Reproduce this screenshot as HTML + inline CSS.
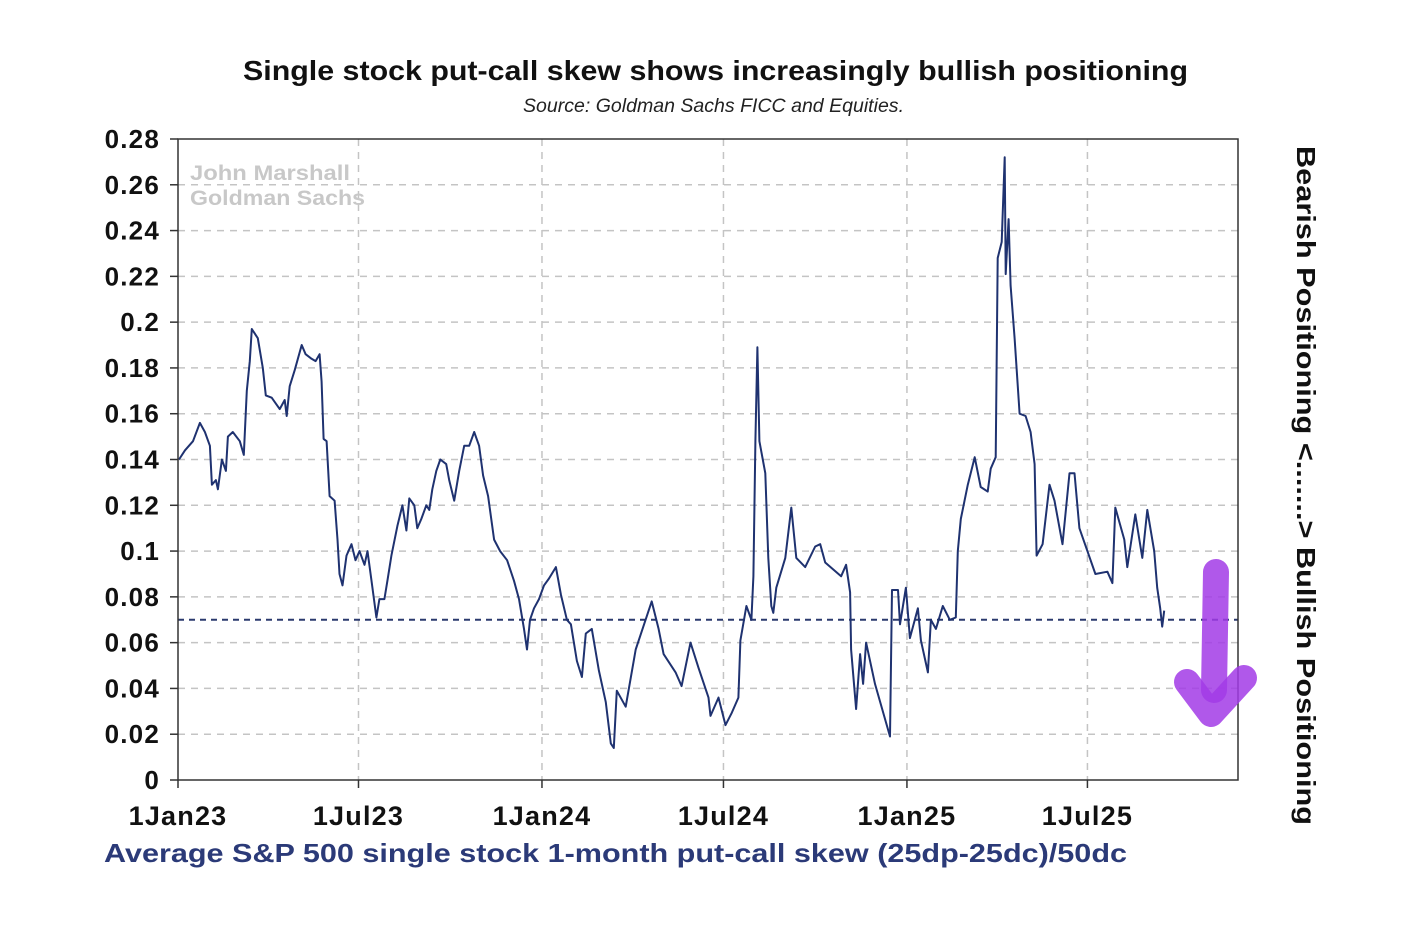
<!DOCTYPE html>
<html><head><meta charset="utf-8"><style>
body{margin:0;background:#fff;}
svg{display:block;font-family:"Liberation Sans",Arial,sans-serif;}
</style></head><body>
<svg id="chart" width="1420" height="940" viewBox="0 0 1420 940">
<text x="243" y="80" textLength="945" lengthAdjust="spacingAndGlyphs" font-size="28" font-weight="bold" fill="#111">Single stock put-call skew shows increasingly bullish positioning</text>
<text x="523" y="112" textLength="381" lengthAdjust="spacingAndGlyphs" font-size="19" font-style="italic" fill="#222">Source: Goldman Sachs FICC and Equities.</text>
<g id="grid"></g>
<g id="yaxis"></g>
<g id="xaxis"></g>
<text x="190" y="180" textLength="160" lengthAdjust="spacingAndGlyphs" font-size="21" font-weight="bold" fill="#c8c8c8">John Marshall</text>
<text x="190" y="205" textLength="175" lengthAdjust="spacingAndGlyphs" font-size="21" font-weight="bold" fill="#c8c8c8">Goldman Sachs</text>
<g id="series"></g>
<rect x="178" y="139" width="1060" height="641" fill="none" stroke="#333" stroke-width="1.5"/>
<text x="104" y="862" textLength="1023" lengthAdjust="spacingAndGlyphs" font-size="26" font-weight="bold" fill="#2b3a78">Average S&amp;P 500 single stock 1-month put-call skew (25dp-25dc)/50dc</text>
<text transform="translate(1297,146) rotate(90)" textLength="679" lengthAdjust="spacingAndGlyphs" font-size="26" font-weight="bold" fill="#111">Bearish Positioning &lt;.......&gt; Bullish Positioning</text>
<g fill="none" stroke="#a23be6" stroke-opacity="0.85" stroke-width="26" stroke-linecap="round" stroke-linejoin="round">
<path d="M1216 572 L1214 690"/>
<path d="M1187 682 L1211 714 L1244 678"/>
</g>
</svg>
<script>
const days=[1,7,15,22,27,32,34,38,40,44,48,50,55,62,66,69,72,74,80,85,88,94,102,107,109,112,117,124,128,134,138,142,144,146,149,152,157,160,162,165,169,174,178,182,187,190,194,199,202,207,210,214,220,225,229,232,237,240,244,249,252,255,259,263,269,272,277,282,287,292,297,302,306,311,317,323,330,337,342,347,350,353,357,362,367,372,379,384,390,394,400,405,409,415,422,429,434,437,440,449,459,475,482,487,499,505,514,522,532,534,542,549,555,562,564,570,575,577,579,581,583,589,592,595,597,600,609,615,620,629,639,644,649,665,670,674,675,680,684,687,690,699,714,716,722,724,730,734,742,745,752,755,760,767,774,780,782,785,792,799,805,812,815,820,822,826,829,830,833,835,839,844,850,855,859,861,867,874,879,887,894,899,904,912,920,932,937,940,949,952,960,967,972,979,982,985,987,989];
const values=[.140,.144,.148,.156,.152,.146,.129,.131,.127,.140,.135,.150,.152,.148,.142,.170,.183,.197,.193,.180,.168,.167,.162,.166,.159,.172,.179,.190,.186,.184,.183,.186,.174,.149,.148,.124,.122,.105,.090,.085,.098,.103,.096,.100,.094,.100,.087,.071,.079,.079,.087,.098,.111,.120,.109,.123,.120,.110,.114,.120,.118,.127,.135,.140,.138,.131,.122,.135,.146,.146,.152,.146,.133,.124,.105,.100,.096,.087,.079,.066,.057,.070,.075,.079,.085,.088,.093,.081,.070,.068,.052,.045,.064,.066,.048,.034,.016,.014,.039,.032,.057,.078,.066,.055,.047,.041,.060,.049,.036,.028,.036,.024,.029,.036,.061,.076,.070,.089,.148,.189,.148,.134,.097,.076,.073,.084,.097,.119,.097,.093,.102,.103,.095,.089,.094,.082,.057,.031,.055,.042,.060,.042,.019,.083,.083,.068,.084,.062,.075,.061,.047,.070,.066,.076,.070,.071,.100,.114,.129,.141,.128,.126,.136,.141,.228,.235,.272,.221,.245,.216,.193,.160,.159,.152,.138,.098,.103,.129,.122,.103,.134,.134,.110,.100,.090,.091,.086,.119,.105,.093,.116,.097,.118,.100,.084,.075,.067,.074];
const yTicks=[0,0.02,0.04,0.06,0.08,0.1,0.12,0.14,0.16,0.18,0.2,0.22,0.24,0.26,0.28];
const yTickLabels=["0","0.02","0.04","0.06","0.08","0.1","0.12","0.14","0.16","0.18","0.2","0.22","0.24","0.26","0.28"];
const xTickDays=[0,181,365,547,731,912];
const xTickLabels=["1Jan23","1Jul23","1Jan24","1Jul24","1Jan25","1Jul25"];
const refLevel=0.07;
const NS="http://www.w3.org/2000/svg";
const X0=178,X1=1238,Y0=780,Y1=139,DMAX=1063,VMAX=0.28;
function xs(d){return X0+d*(X1-X0)/DMAX;}
function ys(v){return Y0-v*(Y0-Y1)/VMAX;}
function mk(tag,attrs,parent){const e=document.createElementNS(NS,tag);for(const k in attrs)e.setAttribute(k,attrs[k]);parent.appendChild(e);return e;}
const grid=document.getElementById('grid'),ya=document.getElementById('yaxis'),xa=document.getElementById('xaxis'),ser=document.getElementById('series');
yTicks.forEach((t,i)=>{
  const y=ys(t);
  if(t>0&&t<VMAX){const g=mk('line',{x1:X0,x2:X1,y1:y,y2:y,stroke:'#c4c4c4','stroke-width':1.5,'stroke-dasharray':'7 6'},grid);
  
  }
  const tk=mk('line',{x1:X0-8,x2:X0,y1:y,y2:y,stroke:'#333','stroke-width':1.5},ya);
  
  
  const tx=mk('text',{x:X0-18,y:y+9,'text-anchor':'end','font-size':26,'font-weight':'bold','letter-spacing':1.2,fill:'#111'},ya);
  tx.textContent=yTickLabels[i];
  
  
});
xTickDays.forEach((d,i)=>{
  const x=xs(d);
  if(d>0){const g=mk('line',{x1:x,x2:x,y1:Y1,y2:Y0,stroke:'#c4c4c4','stroke-width':1.5,'stroke-dasharray':'7 6'},grid);
  
  }
  const tk=mk('line',{x1:x,x2:x,y1:Y0,y2:Y0+8,stroke:'#333','stroke-width':1.5},xa);
  
  
  const tx=mk('text',{x:x,y:825,'text-anchor':'middle','font-size':27,'font-weight':'bold','letter-spacing':1.2,fill:'#111'},xa);
  tx.textContent=xTickLabels[i];
  
  
});
const ref=mk('line',{x1:X0,x2:X1,y1:ys(refLevel),y2:ys(refLevel),stroke:'#2b3a6e','stroke-width':2,'stroke-dasharray':'6 5'},ser);


let pts=[];
days.forEach((d,i)=>{pts.push(xs(d).toFixed(1)+','+ys(values[i]).toFixed(1));});
const pl=mk('polyline',{points:pts.join(' '),fill:'none',stroke:'#1f3270','stroke-width':2,'stroke-linejoin':'round'},ser);


</script>
</body></html>
